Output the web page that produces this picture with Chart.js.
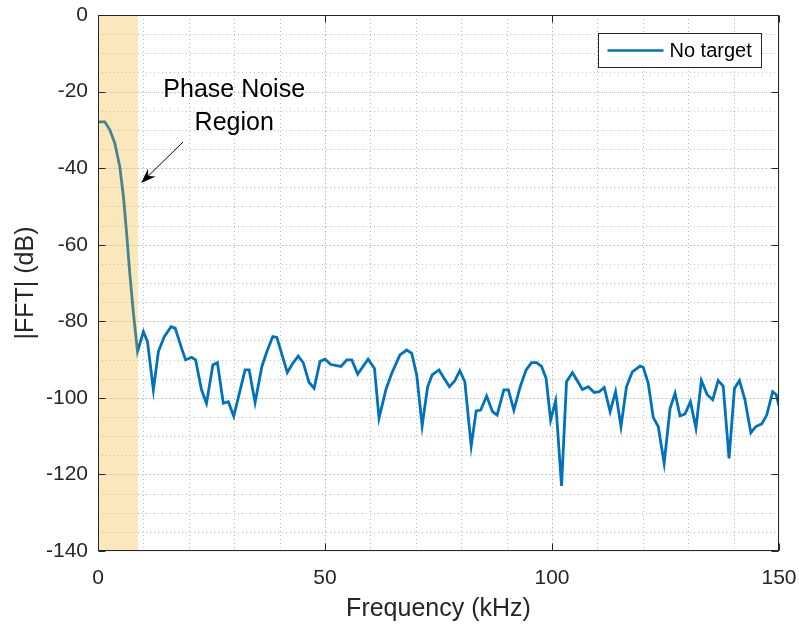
<!DOCTYPE html>
<html>
<head>
<meta charset="utf-8">
<script src="https://cdn.jsdelivr.net/npm/chart.js@4"></script>
<style>
    html, body { margin: 0; padding: 0; background: #ffffff; }
    #wrap { width: 799px; height: 624px; }
</style>
</head>
<body>
<div id="wrap"><canvas id="grafico-fft"></canvas></div>
<script>
// datos
const freqKHz = [0, 0.6, 1.5, 2.6, 3.7, 4.8, 5.6, 6.3, 7.0, 7.8, 8.7,
    10.0, 10.9, 12.2, 13.3, 14.6, 16.1, 17.0, 18.4, 19.3, 20.6, 21.5, 22.8, 23.9, 25.3,
    26.3, 27.6, 28.7, 29.9, 32.4, 33.3, 34.6, 36.1, 37.2, 38.5, 39.4, 41.7, 42.9, 44.1,
    45.2, 46.5, 47.6, 48.9, 50.0, 51.3, 53.5, 54.8, 55.9, 57.2, 59.5, 60.9, 61.9, 63.4,
    64.7, 66.5, 68.0, 69.1, 70.2, 71.4, 72.6, 73.6, 75.1, 77.4, 78.6, 79.7, 80.8, 82.2,
    83.3, 84.3, 85.6, 86.9, 87.9, 89.4, 90.4, 91.6, 93.0, 94.3, 95.5, 96.6, 97.7, 98.7,
    99.7, 100.8, 102.1, 103.2, 104.5, 105.7, 106.7, 108.0, 109.3, 110.4, 111.5, 112.8,
    114.0, 115.2, 116.4, 117.7, 119.4, 120.1, 121.2, 122.3, 123.4, 124.7, 126.0, 127.1,
    128.2, 129.3, 130.5, 131.7, 132.9, 134.2, 135.4, 136.6, 137.7, 139.0, 140.2, 141.3,
    142.5, 143.8, 144.9, 146.2, 147.3, 148.6, 149.4, 150.0];
const magDB = [-28.0, -27.9, -27.9, -30.0, -33.5, -39.6, -47.4, -57.0, -67.5, -77.9, -87.9,
    -82.7, -85.3, -97.9, -87.9, -84.0, -81.4, -81.8, -87.0, -90.1, -89.4, -90.1, -97.9, -101.4, -91.4,
    -90.8, -101.4, -101.0, -104.8, -92.7, -92.7, -101.2, -91.8, -87.9, -84.0, -84.2, -93.4, -91.0, -89.1,
    -90.8, -96.0, -97.5, -90.5, -89.9, -91.3, -91.8, -90.1, -90.1, -93.8, -89.9, -92.3, -105.3, -97.9,
    -93.6, -88.8, -87.5, -88.4, -94.0, -107.3, -97.1, -94.0, -92.7, -97.1, -95.5, -92.9, -95.8, -112.6,
    -103.4, -103.2, -99.5, -103.6, -104.5, -97.9, -97.9, -103.2, -97.1, -92.7, -90.8, -90.8, -91.8, -94.9,
    -105.8, -100.8, -123.0, -95.8, -93.4, -95.8, -97.8, -97.1, -98.6, -98.4, -97.3, -103.6,
    -98.4, -107.5, -97.1, -93.2, -91.7, -92.0, -96.2, -105.1, -107.5, -117.1, -102.8, -98.8,
    -104.7, -104.2, -101.0, -107.9, -95.5, -99.2, -100.5, -95.5, -96.9, -115.8, -97.5, -95.5,
    -100.5, -109.1, -107.5, -106.8, -104.5, -98.4, -99.2, -102.1];
const xTicks = [0, 50, 100, 150];
const yTicks = [-140, -120, -100, -80, -60, -40, -20, 0];
const xMinorStep = 10;
const yMinorStep = 5;
const serieLabel = 'No target';
const regionFin = 8.8;
const notaLineas = ['Phase Noise', 'Region'];

const fuente = '"Liberation Sans", Arial, Helvetica, sans-serif';
const colorEje = '#262626';
const colorLinea = 'rgb(0, 114, 189)';

const ejesMatlab = {
    id: 'ejesMatlab',
    beforeDatasetsDraw(chart) {
        const { ctx, chartArea: a, scales: { x, y } } = chart;
        ctx.save();
        ctx.lineWidth = 1;
        // grilla punteada (mayor y menor)
        ctx.strokeStyle = 'rgba(38,38,38,0.3)';
        ctx.setLineDash([1, 3]);
        for (let v = xTicks[0] + xMinorStep; v < xTicks[xTicks.length - 1]; v += xMinorStep) {
            const px = Math.round(x.getPixelForValue(v)) + 0.5;
            ctx.beginPath(); ctx.moveTo(px, a.top); ctx.lineTo(px, a.bottom); ctx.stroke();
        }
        for (let v = yTicks[0] + yMinorStep; v < yTicks[yTicks.length - 1]; v += yMinorStep) {
            const py = Math.round(y.getPixelForValue(v)) + 0.5;
            ctx.beginPath(); ctx.moveTo(a.left, py); ctx.lineTo(a.right, py); ctx.stroke();
        }
        // grilla mayor muy tenue
        ctx.setLineDash([]);
        ctx.strokeStyle = 'rgba(38,38,38,0.07)';
        xTicks.forEach(v => {
            const px = Math.round(x.getPixelForValue(v)) + 0.5;
            ctx.beginPath(); ctx.moveTo(px, a.top); ctx.lineTo(px, a.bottom); ctx.stroke();
        });
        yTicks.forEach(v => {
            const py = Math.round(y.getPixelForValue(v)) + 0.5;
            ctx.beginPath(); ctx.moveTo(a.left, py); ctx.lineTo(a.right, py); ctx.stroke();
        });
        ctx.restore();
    },
    afterDatasetsDraw(chart) {
        const { ctx, chartArea: a, scales: { x, y } } = chart;
        ctx.save();

        // region de ruido de fase (encima de la linea)
        const x0 = x.getPixelForValue(0);
        const x1 = x.getPixelForValue(regionFin);
        ctx.fillStyle = 'rgba(237, 177, 32, 0.3)';
        ctx.fillRect(x0, a.top, x1 - x0, a.bottom - a.top);

        // caja y marcas hacia adentro
        const L = Math.round(a.left) + 0.5, R = Math.round(a.right) - 0.5;
        const T = Math.round(a.top) + 0.5, B = Math.round(a.bottom) - 0.5;
        ctx.strokeStyle = colorEje;
        ctx.lineWidth = 1;
        ctx.strokeRect(L, T, R - L, B - T);
        const largo = 7;
        ctx.beginPath();
        xTicks.forEach(v => {
            const px = Math.round(x.getPixelForValue(v)) + 0.5;
            ctx.moveTo(px, B); ctx.lineTo(px, B - largo);
            ctx.moveTo(px, T); ctx.lineTo(px, T + largo);
        });
        yTicks.forEach(v => {
            const py = Math.round(y.getPixelForValue(v)) + 0.5;
            ctx.moveTo(L, py); ctx.lineTo(L + largo, py);
            ctx.moveTo(R, py); ctx.lineTo(R - largo, py);
        });
        ctx.stroke();

        // leyenda
        const lw = 163, lh = 34;
        const lx = Math.round(a.right - 18 - lw) + 0.5;
        const ly = Math.round(a.top + 18) + 0.5;
        ctx.fillStyle = '#ffffff';
        ctx.fillRect(lx, ly, lw, lh);
        ctx.strokeStyle = '#262626';
        ctx.strokeRect(lx, ly, lw, lh);
        ctx.strokeStyle = colorLinea;
        ctx.lineWidth = 2.5;
        ctx.beginPath();
        ctx.moveTo(lx + 9, ly + lh / 2);
        ctx.lineTo(lx + 65, ly + lh / 2);
        ctx.stroke();
        ctx.fillStyle = '#000000';
        ctx.font = '20px ' + fuente;
        ctx.textBaseline = 'middle';
        ctx.textAlign = 'left';
        ctx.fillText(serieLabel, lx + 71, ly + lh / 2 + 1);

        // anotacion
        ctx.font = '25px ' + fuente;
        ctx.textAlign = 'center';
        ctx.fillText(notaLineas[0], x.getPixelForValue(30), y.getPixelForValue(-19.6));
        ctx.fillText(notaLineas[1], x.getPixelForValue(30), y.getPixelForValue(-28.2));

        // flecha
        const tx = x.getPixelForValue(18.7), ty = y.getPixelForValue(-33.2);
        const hx = x.getPixelForValue(9.5), hy = y.getPixelForValue(-43.9);
        const ang = Math.atan2(hy - ty, hx - tx);
        ctx.strokeStyle = '#000000';
        ctx.lineWidth = 1;
        ctx.beginPath();
        ctx.moveTo(tx, ty);
        ctx.lineTo(hx - 8 * Math.cos(ang), hy - 8 * Math.sin(ang));
        ctx.stroke();
        const hl = 15, hw = 5.5;
        const bx = hx - hl * Math.cos(ang), by = hy - hl * Math.sin(ang);
        ctx.fillStyle = '#000000';
        ctx.beginPath();
        ctx.moveTo(hx, hy);
        ctx.lineTo(bx + hw * Math.sin(ang), by - hw * Math.cos(ang));
        ctx.lineTo(hx - 10 * Math.cos(ang), hy - 10 * Math.sin(ang));
        ctx.lineTo(bx - hw * Math.sin(ang), by + hw * Math.cos(ang));
        ctx.closePath();
        ctx.fill();

        ctx.restore();
    }
};

window.onload = function () {
    const ctxFft = document.getElementById('grafico-fft');
    const puntos = freqKHz.map((f, i) => ({ x: f, y: magDB[i] }));

    new Chart(ctxFft.getContext('2d'), {
        type: 'line',
        data: {
            datasets: [{
                label: serieLabel,
                data: puntos,
                borderColor: colorLinea,
                borderWidth: 2.8,
                pointRadius: 0,
                tension: 0,
                fill: false
            }]
        },
        options: {
            responsive: true,
            maintainAspectRatio: false,
            animation: false,
            layout: {
                padding: { left: 0, right: 20, top: 15, bottom: 0 }
            },
            scales: {
                x: {
                    type: 'linear',
                    min: xTicks[0],
                    max: xTicks[xTicks.length - 1],
                    afterBuildTicks: s => { s.ticks = xTicks.map(v => ({ value: v })); },
                    afterFit: s => {
                        s.height = 73;
                        s.paddingLeft = 0;
                        s.paddingRight = 0;
                    },
                    grid: { display: false },
                    border: { display: false },
                    ticks: {
                        color: colorEje,
                        font: { family: fuente, size: 21 },
                        padding: 7,
                        maxRotation: 0
                    },
                    title: {
                        display: true,
                        text: 'Frequency (kHz)',
                        color: colorEje,
                        font: { family: fuente, size: 25 },
                        padding: { top: 0, bottom: 0 }
                    }
                },
                y: {
                    type: 'linear',
                    min: yTicks[0],
                    max: yTicks[yTicks.length - 1],
                    afterBuildTicks: s => { s.ticks = yTicks.map(v => ({ value: v })); },
                    afterFit: s => {
                        s.width = 98;
                        s.paddingTop = 0;
                        s.paddingBottom = 0;
                    },
                    grid: { display: false },
                    border: { display: false },
                    ticks: {
                        color: colorEje,
                        font: { family: fuente, size: 21 },
                        padding: 2
                    },
                    title: {
                        display: true,
                        text: '|FFT| (dB)',
                        color: colorEje,
                        font: { family: fuente, size: 25 },
                        padding: { top: 11, bottom: 0 }
                    }
                }
            },
            plugins: {
                legend: { display: false },
                tooltip: { enabled: false }
            }
        },
        plugins: [ejesMatlab]
    });
};
</script>
</body>
</html>
